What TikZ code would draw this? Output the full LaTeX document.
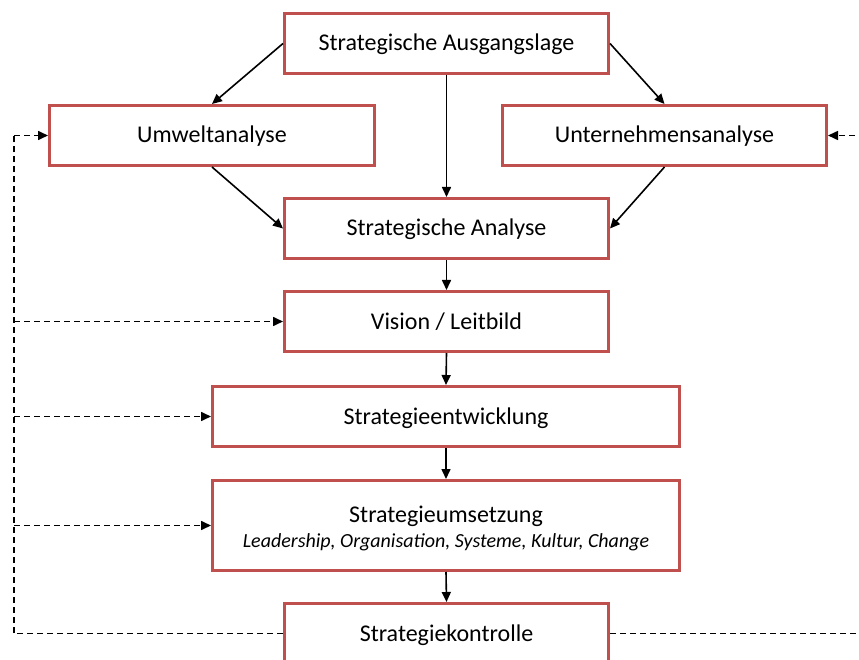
\documentclass[tikz,border=0pt]{standalone}
\usepackage{fontspec}
\setmainfont{Carlito}
\usetikzlibrary{arrows.meta}
\definecolor{boxred}{HTML}{C0504D}
\tikzset{
  box/.style={draw=boxred, line width=3pt, fill=white, inner sep=0pt, minimum height=60pt, font=\fontsize{24}{28}\selectfont, align=center, text height=17pt, text depth=2pt},
  arr/.style={-{Triangle[length=10pt,width=9pt]}, line width=1.6pt},
  darr/.style={-{Triangle[length=10pt,width=9pt]}, line width=1.6pt, dash pattern=on 6pt off 4pt},
  dline/.style={line width=1.6pt, dash pattern=on 6pt off 4pt}
}
\begin{document}
\begin{tikzpicture}[x=1pt,y=-1pt]
\clip (0,0) rectangle (859,660);
\fill[white] (0,0) rectangle (859,660);
\node[box, minimum width=324pt] (aus) at (446.5,43.5) {Strategische Ausgangslage};
\node[box, minimum width=325pt] (umw) at (212,135.5) {Umweltanalyse};
\node[box, minimum width=324pt] (unt) at (664.5,135.5) {Unternehmensanalyse};
\node[box, minimum width=324pt] (ana) at (446.5,228.5) {Strategische Analyse};
\node[box, minimum width=324pt] (vis) at (446.5,321.5) {Vision / Leitbild};
\node[box, minimum width=467pt] (ent) at (446,416.5) {Strategieentwicklung};
\node[draw=boxred, line width=3pt, fill=white, inner sep=0pt, minimum width=467pt, minimum height=90pt,
  label={[font=\fontsize{24}{28}\selectfont, align=center, yshift=-3pt]center:Strategieumsetzung\\[-3pt]{\fontsize{20}{24}\selectfont\itshape Leadership, Organisation, Systeme, Kultur, Change}}] (ums) at (446,525.5) {};
\node[box, minimum width=324pt] (kon) at (446.5,633.5) {Strategiekontrolle};
\coordinate (lx) at (14,0);
\coordinate (rx) at (875,0);
% solid arrows
\draw[arr] (aus.west) -- (umw.north);
\draw[arr] (aus.east) -- (unt.north);
\draw[arr] (aus.south) -- (ana.north);
\draw[arr] (umw.south) -- (ana.west);
\draw[arr] (unt.south) -- (ana.east);
\draw[arr] (ana.south) -- (vis.north);
\draw[arr] (vis.south) -- (ent.north);
\draw[arr] (ent.south) -- (ums.north);
\draw[arr] (ums.south) -- (kon.north);
% dashed feedback
\draw[dline] (kon.west) -- (lx |- kon.west) -- (lx |- umw.west);
\draw[darr] (lx |- umw.west) -- (umw.west);
\draw[darr] (lx |- vis.west) -- (vis.west);
\draw[darr] (lx |- ent.west) -- (ent.west);
\draw[darr] (lx |- ums.west) -- (ums.west);
\draw[dline] (kon.east) -- (rx |- kon.east) -- (rx |- unt.east);
\draw[darr] (rx |- unt.east) -- (unt.east);
\end{tikzpicture}
\end{document}
